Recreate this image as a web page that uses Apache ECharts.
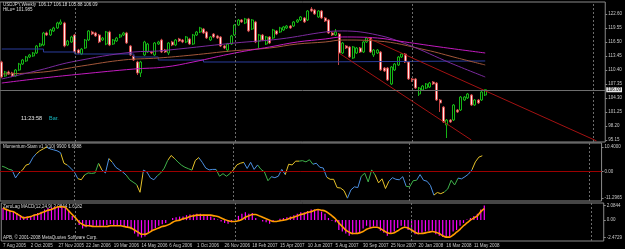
<!DOCTYPE html>
<html>
<head>
<meta charset="utf-8">
<script src="https://cdn.jsdelivr.net/npm/echarts@6/dist/echarts.min.js"></script>
<style>
  html, body { margin: 0; padding: 0; background: #000; }
  #chart { width: 625px; height: 249px; }
</style>
</head>
<body>
<div id="chart"></div>
<script>
// USDJPY weekly, one value per bar (140 bars)
const opens = [
  112.14,109.09,109.96,109.74,109.09,110.40,111.70,112.36,113.23,113.45,
  114.10,115.63,115.84,118.46,118.02,118.90,119.55,120.42,120.64,115.84,
  116.50,118.02,114.75,113.88,115.19,116.93,118.68,118.46,118.02,116.93,
  116.06,118.68,116.06,116.72,117.59,118.02,118.46,115.63,113.45,112.14,
  109.74,113.67,114.32,114.32,113.67,116.06,116.93,114.75,114.10,116.50,
  115.84,117.15,116.93,116.50,117.15,116.06,118.02,118.68,119.33,118.68,
  116.93,118.24,117.81,117.59,115.63,114.75,116.06,118.02,120.20,121.29,
  120.64,121.51,119.33,120.86,116.72,118.02,116.06,117.59,117.37,118.90,
  118.68,119.11,119.55,119.98,119.98,120.86,121.29,121.73,121.29,123.69,
  123.47,121.95,123.25,121.73,121.29,118.46,118.02,118.24,114.10,115.63,
  115.41,113.01,114.10,115.19,114.32,116.50,117.37,113.67,114.10,114.32,
  110.83,110.83,107.35,110.40,111.49,113.23,113.88,112.14,108.44,108.44,
  105.17,106.04,106.47,106.69,107.78,107.56,103.86,102.33,98.41,99.50,
  99.50,101.68,101.68,103.86,104.30,104.95,102.77,103.86,103.86,104.95
];
const closes = [
  108.87,109.96,109.53,109.09,110.40,111.70,112.58,113.23,113.67,114.10,
  115.63,116.06,118.46,118.02,119.11,119.55,120.64,120.86,115.63,116.72,
  117.59,114.32,114.10,114.97,116.93,118.90,118.24,117.81,116.50,117.37,
  118.68,115.84,116.93,117.37,118.02,118.46,116.28,113.67,112.58,109.74,
  112.14,116.50,116.06,114.10,116.28,116.50,114.32,114.32,116.28,115.84,
  116.93,116.72,116.50,117.59,116.06,118.02,118.68,119.55,118.46,117.37,
  117.59,117.59,117.37,115.63,115.19,116.06,117.81,120.20,121.29,120.86,
  121.51,118.90,121.29,116.50,118.02,116.93,117.59,116.28,119.11,118.24,
  119.55,119.77,119.98,119.55,120.86,121.29,121.95,120.86,123.25,123.25,
  122.60,123.25,121.73,121.07,118.46,118.02,118.68,114.10,116.28,115.19,
  113.23,115.41,115.19,114.32,116.50,117.37,114.32,114.75,114.75,110.40,
  110.18,108.22,111.05,111.70,113.23,113.88,112.14,108.44,108.22,106.47,
  106.47,106.91,107.35,107.56,107.35,103.86,103.21,99.07,99.50,99.07,
  102.77,101.25,104.51,104.51,105.17,102.77,103.86,103.21,105.60,106.09
];
const lows = [
  108.60,108.90,109.30,108.85,108.95,110.20,111.50,112.15,113.00,113.25,
  113.90,115.40,115.60,117.80,117.80,118.70,119.35,120.20,115.35,115.60,
  116.30,114.05,113.85,113.65,115.00,116.70,118.00,117.60,116.25,116.70,
  115.80,115.60,115.85,116.50,117.35,117.80,116.05,113.45,112.35,109.31,
  108.87,113.45,114.10,113.85,113.45,115.85,114.10,114.10,113.65,115.60,
  115.60,116.50,116.25,116.25,115.85,115.85,117.80,118.45,118.25,117.15,
  116.70,117.35,117.15,115.40,114.95,114.32,115.85,117.80,120.00,120.65,
  120.40,118.65,119.10,116.25,115.19,116.70,115.85,116.05,117.15,118.00,
  118.45,118.90,119.33,119.33,119.77,120.64,121.07,120.64,121.07,123.00,
  122.40,121.75,121.50,120.85,118.25,117.80,117.80,111.49,113.88,114.97,
  113.01,112.80,113.88,114.10,114.10,116.28,114.10,113.23,113.88,110.18,
  109.96,108.00,107.13,110.18,111.27,113.01,111.92,108.22,107.80,106.25,
  104.73,105.82,106.25,106.47,107.13,103.64,101.25,98.85,95.58,98.85,
  99.28,101.03,101.46,103.64,104.08,102.55,102.55,102.99,103.64,104.73
];
const highs = [
  112.40,110.20,110.25,110.00,110.60,111.95,112.80,113.45,113.90,114.30,
  115.85,116.30,118.70,118.75,119.35,119.80,120.90,121.40,120.90,116.95,
  117.85,118.25,115.00,115.20,117.15,119.10,118.95,118.70,118.25,117.60,
  118.90,118.95,117.15,117.60,118.25,118.70,118.70,115.85,113.70,112.40,
  112.40,116.75,116.30,114.55,116.50,116.75,117.20,115.00,116.50,116.75,
  117.15,117.40,117.15,117.80,117.40,118.25,118.90,119.80,119.55,118.90,
  117.80,118.45,118.05,117.80,115.85,116.30,118.05,120.40,121.50,121.50,
  121.75,121.75,121.50,121.10,118.25,118.25,117.80,117.80,119.35,119.10,
  119.80,120.00,120.20,120.20,121.07,121.51,122.15,121.95,123.45,124.10,
  123.70,123.45,123.47,121.95,121.51,118.70,119.33,118.46,116.50,115.84,
  115.63,115.63,115.41,115.41,116.72,117.59,117.59,114.97,114.97,114.54,
  111.05,111.05,111.27,111.92,113.45,114.10,114.10,112.36,108.66,108.66,
  106.69,107.13,107.56,107.78,108.00,107.78,104.08,102.55,99.72,99.72,
  102.99,101.90,104.73,104.73,105.39,105.17,104.08,104.08,105.82,106.18
];

// moving averages, read at a few bars: [bar, price]
const maViolet = [[0,108.44],[11,110.40],[20,112.14],[38,114.32],[45,114.54],[67,116.28],[80,117.15],[93,118.68],[98,118.90],[108,118.02],[117,115.84],[129,111.92],[139,108.87]];
const maBrown = [[0,109.53],[12,109.96],[23,111.27],[35,112.58],[45,113.01],[55,113.67],[66,114.54],[77,115.19],[85,116.06],[93,116.50],[98,116.93],[108,116.72],[122,114.75],[131,113.01],[139,111.49]];
const maMagenta = [[0,107.56],[12,108.66],[23,109.53],[38,110.61],[47,111.05],[55,112.14],[67,114.10],[77,115.41],[85,116.50],[93,117.15],[98,117.59],[108,117.37],[114,116.72],[126,115.41],[139,114.10]];
const maBlue = [[0,114.97],[12,114.32],[21,113.88],[38,113.23],[45,112.58],[58,112.14],[88,112.36],[139,112.36]];

const momentum = [
  2.3,1.8,1.0,0.6,-2.7,-0.6,0.6,2.7,3.2,5.9,
  7.6,8.8,9.6,10.4,9.6,9.2,8.8,8.0,3.5,2.7,
  1.4,-0.2,-3.0,-3.5,-1.4,-0.6,-0.8,-0.6,3.5,0.6,
  -0.6,5.5,3.9,1.8,0.8,-0.2,-1.5,-3.5,-4.5,-5.5,
  -8.8,0.6,-0.2,-2.7,-3.5,-1.8,-0.6,1.4,4.7,6.8,
  5.5,4.0,2.7,1.8,1.2,0.6,4.7,5.9,3.9,1.5,
  0.7,0.9,0.9,-2.0,-0.9,-2.0,-0.9,0.7,2.8,3.5,
  3.9,1.3,3.9,0.9,2.8,0.9,-0.2,-3.9,-2.2,-2.6,
  -2.0,0.9,-1.3,3.1,2.8,4.4,4.4,4.6,4.1,5.0,
  3.1,3.5,1.8,1.5,-2.4,-3.3,-3.3,-6.8,-7.0,-8.1,
  -11.3,-7.8,-6.5,-6.8,-2.0,-0.7,-4.4,0.7,-1.5,-4.8,
  -3.1,-7.2,-4.1,-2.6,-3.3,-3.5,-2.2,-6.3,-6.5,-3.9,
  -3.7,-1.3,-3.7,-4.1,-5.9,-10.0,-8.9,-9.4,-8.7,-7.4,
  -3.7,-5.7,-2.8,-3.1,-2.2,-1.1,0.7,4.1,6.1,6.69
];
const macdHist = [
  1.7,1.6,1.4,1.3,1.0,0.7,0.5,0.5,0.6,0.8,
  1.0,1.2,1.5,1.7,1.8,1.9,2.0,2.0,1.8,1.3,
  0.6,0.2,-0.7,-1.2,-1.0,-0.9,-0.8,-0.8,-0.9,-0.8,
  -0.7,-0.6,-0.7,-0.7,-0.8,-0.9,-1.0,-1.3,-1.9,-2.3,
  -2.47,-2.3,-1.8,-1.5,-1.1,-0.8,-0.6,-0.4,0.0,0.3,
  0.4,0.5,0.5,0.7,0.8,0.8,0.9,0.9,0.8,0.7,
  0.5,0.3,0.1,-0.2,-0.4,-0.5,-0.3,0.1,0.6,0.9,
  1.1,0.9,1.0,0.3,0.0,-0.2,-0.3,-0.5,-0.2,0.0,
  0.2,0.3,0.4,0.5,0.7,0.9,1.1,1.1,1.3,1.5,
  1.5,1.5,1.2,0.9,0.3,-0.1,-0.3,-1.4,-1.6,-1.9,
  -2.2,-2.0,-1.9,-1.8,-1.2,-0.8,-1.0,-0.9,-0.9,-1.5,
  -1.8,-2.2,-1.9,-1.6,-1.1,-0.8,-0.9,-1.4,-1.7,-2.0,
  -2.0,-1.8,-1.6,-1.5,-1.5,-2.0,-2.2,-2.4,-2.4,-2.3,
  -1.6,-1.4,-0.8,-0.4,0.1,0.3,0.6,0.9,1.5,2.08
];
const macdSignal = [
  1.7,1.5,1.3,1.2,0.9,0.6,0.3,0.4,0.5,0.7,
  0.8,1.0,1.2,1.4,1.5,1.7,1.9,1.9,1.8,1.3,
  0.8,0.3,-0.3,-0.6,-0.8,-0.8,-0.9,-0.9,-0.9,-0.9,
  -0.9,-0.8,-0.8,-0.8,-0.8,-0.9,-1.0,-1.1,-1.4,-1.7,
  -2.0,-2.0,-1.8,-1.5,-1.3,-1.1,-0.9,-0.8,-0.6,-0.3,
  -0.1,0.0,0.2,0.3,0.5,0.6,0.7,0.7,0.7,0.7,
  0.7,0.6,0.5,0.3,0.1,-0.1,-0.2,-0.2,-0.1,0.1,
  0.4,0.6,0.8,0.8,0.6,0.4,0.2,0.0,-0.2,-0.2,
  -0.1,0.0,0.1,0.3,0.4,0.6,0.8,0.9,1.1,1.2,
  1.4,1.5,1.4,1.3,1.0,0.6,0.2,-0.4,-0.9,-1.4,
  -1.7,-1.9,-1.9,-1.8,-1.6,-1.3,-1.1,-1.0,-1.0,-1.2,
  -1.5,-1.8,-1.9,-1.8,-1.5,-1.2,-1.0,-1.1,-1.4,-1.7,
  -1.9,-1.9,-1.8,-1.7,-1.6,-1.7,-1.9,-2.2,-2.4,-2.4,
  -2.1,-1.7,-1.3,-0.8,-0.4,0.0,0.3,0.6,1.2,1.62
];

// axis labels
const dateLabels = ['7 Aug 2005','2 Oct 2005','27 Nov 2005','22 Jan 2006','19 Mar 2006','14 May 2006',
  '6 Aug 2006','1 Oct 2006','26 Nov 2006','18 Feb 2007','15 Apr 2007','10 Jun 2007','5 Aug 2007',
  '30 Sep 2007','25 Nov 2007','20 Jan 2008','16 Mar 2008','11 May 2008'];
const priceTicks = [122.60,119.55,116.50,113.45,110.40,107.35,104.30,101.25,98.20,95.15];
const momTicks = [10.4, 0, -11.2965];
const momTickText = ['10.4000', '0.00', '-11.2965'];
const macdTicks = [2.0844, 0, -2.4729];
const macdTickText = ['2.0844', '0.00', '-2.4729'];
const bid = 106.09;
const yearBreaks = [21, 67, 118, 170];   // period separators (bar index)

// ---- layout / style ----
const SLOTS = 174;           // bars plus the empty shift area on the right
const categories = [];
for (let i = 0; i < SLOTS; i++) categories.push(String(i));

const FONT = 'Liberation Sans';
const AX_COLOR = '#c8c8c8';
const BORDER = '#8a8a8a';

// colour runs of the momentum line
const Y = '#e6c229', B = '#4b8fe0', G = '#3fb24a';
const momRuns = [[0,3,G],[3,5,B],[5,8,Y],[8,10,B],[10,13,Y],[13,17,B],[17,19,Y],[19,22,B],[22,24,Y],
  [24,28,G],[28,29,Y],[29,31,B],[31,32,Y],[32,36,B],[36,39,G],[39,41,Y],[41,45,B],[45,48,G],[48,50,Y],
  [50,55,G],[55,57,Y],[57,62,B],[62,66,G],[66,70,Y],[70,74,B],[74,78,G],[78,82,B],[82,86,Y],[86,90,G],
  [90,94,B],[94,100,Y],[100,104,B],[104,108,G],[108,112,Y],[112,117,B],[117,120,G],[120,125,B],
  [125,128,Y],[128,132,G],[132,136,B],[136,140,Y]];

function sepLines() {
  return yearBreaks.map(b => ({
    xAxis: b,
    lineStyle: { color: '#6c6c6c', type: [2, 2], width: 1 }
  }));
}

function xAx(gridIndex, withLabels) {
  return {
    type: 'category', gridIndex, data: categories, boundaryGap: true,
    axisLine: { show: false }, axisTick: { show: false }, splitLine: { show: false },
    axisLabel: withLabels ? {
      show: true, interval: 0, align: 'left', margin: 2, color: AX_COLOR,
      fontSize: 4.5, fontFamily: FONT, hideOverlap: false,
      formatter: (v, idx) => (idx % 8 === 0 && idx / 8 < dateLabels.length) ? dateLabels[idx / 8] : ''
    } : { show: false }
  };
}

function yAx(gridIndex, min, max, ticks, fmt) {
  return {
    type: 'value', gridIndex, position: 'right', min, max, scale: true,
    axisLine: { show: false }, splitLine: { show: false },
    axisTick: { show: true, length: 2, customValues: ticks, lineStyle: { color: BORDER } },
    axisLabel: { show: true, customValues: ticks, formatter: fmt, color: AX_COLOR,
      fontSize: 4.5, fontFamily: FONT, margin: 3 }
  };
}

const gridBase = { left: 0, width: 608, show: true, borderColor: BORDER, borderWidth: 1, backgroundColor: '#000' };

const option = {
  backgroundColor: '#000',
  animation: false,
  grid: [
    Object.assign({ top: 2, height: 140 }, gridBase),
    Object.assign({ top: 143, height: 58 }, gridBase),
    Object.assign({ top: 203, height: 38 }, gridBase)
  ],
  xAxis: [xAx(0, false), xAx(1, false), xAx(2, true)],
  yAxis: [
    yAx(0, 94.71, 125.21, priceTicks, v => v.toFixed(2)),
    yAx(1, -12.5, 12.1, momTicks, v => momTickText[momTicks.indexOf(v)] || ''),
    yAx(2, -2.95, 2.42, macdTicks, v => macdTickText[macdTicks.indexOf(v)] || '')
  ],
  visualMap: [{
    type: 'piecewise', show: false, dimension: 0, seriesIndex: 6,
    pieces: momRuns.map(r => ({ gte: r[0], lt: r[1], color: r[2] }))
  }],
  series: [
    {
      name: 'USDJPY', type: 'candlestick', xAxisIndex: 0, yAxisIndex: 0, barWidth: 2.5,
      data: opens.map((o, i) => [o, closes[i], lows[i], highs[i]]),
      itemStyle: { color: '#000', color0: '#ffe8e8', borderColor: '#15b515', borderColor0: '#c84444', borderWidth: 1 },
      markLine: {
        silent: true, symbol: 'none', label: { show: false },
        data: [
          ...sepLines(),
          [{ coord: [105, 117.46], lineStyle: { color: '#a31212', width: 1, type: 'solid' } }, { coord: [171, 94.95] }],
          [{ coord: [97, 114.06], lineStyle: { color: '#a31212', width: 1, type: 'solid' } }, { coord: [135, 95.15] }],
          {
            yAxis: bid, lineStyle: { color: '#6e6e6e', width: 1, type: 'solid' },
            label: { show: true, position: 'end', distance: 1, formatter: bid.toFixed(2),
              color: '#000', backgroundColor: '#e6e6e6', fontSize: 4.5, fontFamily: FONT, padding: [0, 1] }
          }
        ]
      }
    },
    { type: 'line', xAxisIndex: 0, yAxisIndex: 0, data: maBlue, step: 'end', showSymbol: false,
      lineStyle: { color: '#2b3d9c', width: 1 } },
    { type: 'line', xAxisIndex: 0, yAxisIndex: 0, data: maBrown, smooth: 0.4, showSymbol: false,
      lineStyle: { color: '#a3573a', width: 1 } },
    { type: 'line', xAxisIndex: 0, yAxisIndex: 0, data: maViolet, smooth: 0.4, showSymbol: false,
      lineStyle: { color: '#7b2a9e', width: 1 } },
    { type: 'line', xAxisIndex: 0, yAxisIndex: 0, data: maMagenta, smooth: 0.4, showSymbol: false,
      lineStyle: { color: '#c21bbf', width: 1 } },
    // holds the separators and zero line of the momentum pane
    { type: 'line', xAxisIndex: 1, yAxisIndex: 1, data: [], showSymbol: false,
      markLine: {
        silent: true, symbol: 'none', label: { show: false },
        data: [...sepLines(), { yAxis: 0, lineStyle: { color: '#9c0000', width: 1, type: 'solid' } }]
      } },
    { name: 'Momentum', type: 'line', xAxisIndex: 1, yAxisIndex: 1, data: momentum, showSymbol: false,
      lineStyle: { width: 1 } },
    { name: 'MACD', type: 'bar', xAxisIndex: 2, yAxisIndex: 2, data: macdHist, barWidth: 1.2,
      itemStyle: { color: '#ff00ff' },
      markLine: { silent: true, symbol: 'none', label: { show: false }, data: sepLines() } },
    { name: 'Signal', type: 'line', xAxisIndex: 2, yAxisIndex: 2, data: macdSignal, smooth: 0.3,
      showSymbol: false, lineStyle: { color: '#ff9c00', width: 1.6 } }
  ],
  graphic: [
    { type: 'text', left: 3, top: 2, style: { text: 'USDJPY,Weekly  106.17 106.18 105.88 106.09', fill: '#dcdcdc', font: '4.5px ' + FONT } },
    { type: 'text', left: 3, top: 7, style: { text: 'HiLo= 101.985', fill: '#dcdcdc', font: '4.5px ' + FONT } },
    { type: 'text', left: 21, top: 115, style: { text: '11:23:58', fill: '#e8e8e8', font: '5.5px ' + FONT } },
    { type: 'text', left: 49, top: 115, style: { text: 'Bar.', fill: '#16b8c0', font: '5.5px ' + FONT } },
    { type: 'text', left: 3, top: 144, style: { text: 'Momentum-Stam v1.1(10) 9900 6.6888', fill: '#dcdcdc', font: '4.5px ' + FONT } },
    { type: 'text', left: 3, top: 204, style: { text: 'ZeroLag MACD(12,24,9) 2.0844 1.6182', fill: '#dcdcdc', font: '4.5px ' + FONT } },
    { type: 'text', left: 3, top: 235, style: { text: 'APB, \u00a9 2001-2008 MetaQuotes Software Corp.', fill: '#dcdcdc', font: '4.5px ' + FONT } }
  ]
};

const chart = echarts.init(document.getElementById('chart'), null, { renderer: 'canvas' });
chart.setOption(option);
</script>
</body>
</html>
